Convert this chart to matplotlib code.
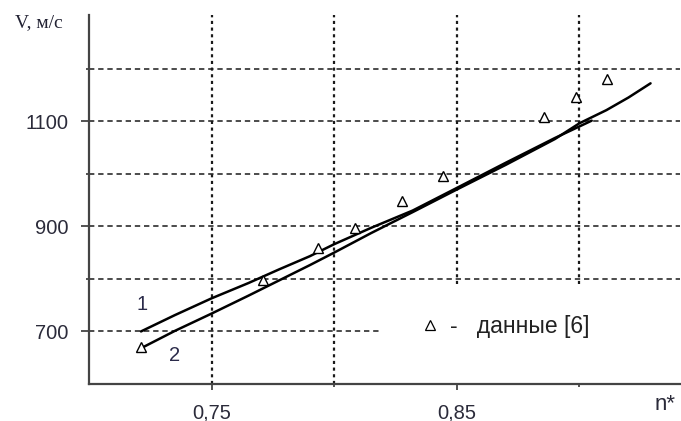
import matplotlib.pyplot as plt
from matplotlib.lines import Line2D
from matplotlib.patches import Rectangle

# кривая 1 (расчёт)
n_1 = [0.7212, 0.735, 0.75, 0.765, 0.7775, 0.79, 0.80, 0.815, 0.832, 0.85, 0.87, 0.89, 0.905]
v_1 = [700, 731, 763, 792, 818, 843, 866, 897, 930, 973, 1021, 1068, 1101]

# кривая 2 (расчёт)
n_2 = [0.7212, 0.735, 0.75, 0.765, 0.7775, 0.79, 0.80, 0.815, 0.832, 0.85, 0.87, 0.89, 0.90, 0.911, 0.92, 0.929]
v_2 = [668, 701, 734, 768, 797, 826, 850, 887, 927, 970, 1017, 1066, 1096, 1121, 1145, 1172]

# данные [6]
n_exp = [0.7212, 0.771, 0.7935, 0.8086, 0.8278, 0.8445, 0.8857, 0.8988, 0.9114]
v_exp = [671, 797, 858, 896, 948, 995, 1108, 1146, 1180]

x_major = [0.75, 0.85]
x_minor = [0.80, 0.90]
x_labels = ['0,75', '0,85']
y_major = [700, 900, 1100]
y_minor = [800, 1000, 1200]

plt.rcParams['font.family'] = ['Liberation Sans', 'DejaVu Sans']
ink = '#1a1a1a'

fig = plt.figure(figsize=(6.81, 4.21), dpi=100)
ax = fig.add_axes([0.1307, 0.0879, 0.8678, 0.8765])
ax.set_xlim(0.70, 0.941)
ax.set_ylim(600, 1302)

for side in ('top', 'right'):
    ax.spines[side].set_visible(False)
for side in ('left', 'bottom'):
    ax.spines[side].set_color('#444444')
    ax.spines[side].set_linewidth(1.6)

ax.set_xticks(x_major)
ax.set_xticklabels(x_labels)
ax.set_xticks(x_minor, minor=True)
ax.set_yticks(y_major)
ax.set_yticks(y_minor, minor=True)
ax.tick_params(axis='both', which='major', length=6, width=1.3, color='#444444',
               labelsize=14.5, labelcolor='#2b2b3a')
ax.tick_params(axis='y', which='major', pad=9)
ax.tick_params(axis='x', which='major', pad=10, length=4)
ax.tick_params(axis='both', which='minor', length=2, width=1.3, color='#444444')

# сетка: горизонтальная штриховая, вертикальная пунктирная
ax.grid(True, axis='y', which='both', color=ink, linewidth=1.1,
        linestyle=(0, (3.5, 2.5)))
ax.grid(True, axis='x', which='both', color=ink, linewidth=1.6,
        linestyle=(0, (1.4, 1.6)))
ax.set_axisbelow(True)

# белая подложка под подписью легенды закрывает сетку
ax.add_patch(Rectangle((0.492, 0.004), 0.508, 0.264, transform=ax.transAxes,
                       facecolor='white', edgecolor='none', zorder=1))

ax.plot(n_1, v_1, color='black', linewidth=1.8, solid_capstyle='round', zorder=3)
ax.plot(n_2, v_2, color='black', linewidth=1.8, solid_capstyle='round', zorder=3)
ax.plot(n_exp, v_exp, linestyle='none', marker='^', markersize=7, zorder=4,
        markerfacecolor='white', markeredgecolor='black', markeredgewidth=1.0)

ax.text(0.7215, 752, '1', fontsize=14.5, color='#2b2b4a', ha='center', va='center')
ax.text(0.7350, 654, '2', fontsize=14.5, color='#2b2b4a', ha='center', va='center')

tri = Line2D([], [], linestyle='none', marker='^', markersize=6.5,
             markerfacecolor='white', markeredgecolor='black', markeredgewidth=0.9)
leg = ax.legend(handles=[tri], labels=['-   данные [6]'], frameon=False, fontsize=16.5,
                loc='center left', bbox_to_anchor=(0.53, 0.155), handlelength=0.6,
                handletextpad=0.6, labelcolor='#222222')
leg.set_zorder(5)

fig.text(0.022, 0.947, 'V, м/с', fontsize=14, family='Liberation Serif',
         color='#222233', ha='left', va='center')
fig.text(0.961, 0.04, 'n*', fontsize=16, color='#2b2b3a', ha='left', va='center')

fig.savefig('out.png', dpi=100)
